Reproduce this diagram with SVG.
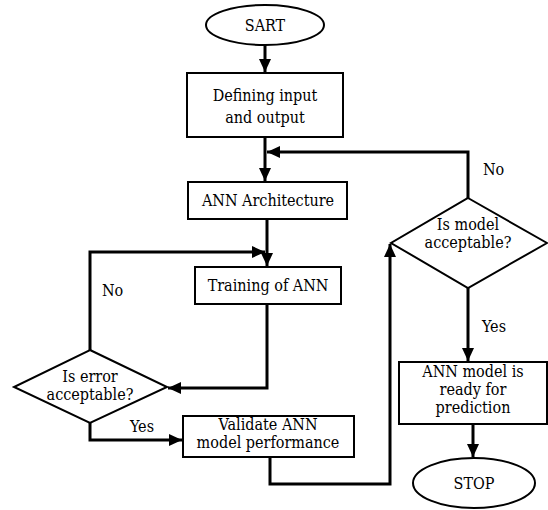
<svg xmlns="http://www.w3.org/2000/svg" width="548" height="510" viewBox="0 0 548 510">
<style>
.s{fill:#fff;stroke:#000;stroke-width:2}
.c{fill:none;stroke:#000;stroke-width:3}
text{font-family:'DejaVu Serif Condensed','DejaVu Serif',serif;font-size:16px;fill:#000;text-anchor:middle}
.l{text-anchor:start}
</style>
<defs>
<marker id="a" markerUnits="userSpaceOnUse" markerWidth="13" markerHeight="12" refX="13" refY="6" orient="auto">
<path d="M0,0 L13,6 L0,12 z" fill="#000"/>
</marker>
</defs>
<rect width="548" height="510" fill="#fff"/>
<g id="connectors">
<path class="c" d="M265 45 V72" marker-end="url(#a)"/>
<path class="c" d="M265 137 V181" marker-end="url(#a)"/>
<path class="c" d="M468 198 V152 H267" marker-end="url(#a)"/>
<path class="c" d="M267 219 V266" marker-end="url(#a)"/>
<path class="c" d="M90 350 V252 H265" marker-end="url(#a)"/>
<path class="c" d="M267 304 V388 H168" marker-end="url(#a)"/>
<path class="c" d="M90 423 V440 H182" marker-end="url(#a)"/>
<path class="c" d="M270 457 V484 H390 V244" marker-end="url(#a)"/>
<path class="c" d="M468 288 V361" marker-end="url(#a)"/>
<path class="c" d="M473 424 V457" marker-end="url(#a)"/>
<text class="l" x="102" y="296">No</text>
<text class="l" x="130" y="432">Yes</text>
<text class="l" x="483" y="175">No</text>
<text class="l" x="482" y="332">Yes</text>
</g>
<g id="start">
<ellipse class="s" cx="265" cy="25" rx="59" ry="20"/>
<text x="265" y="31">SART</text>
</g>
<g id="define">
<rect class="s" x="187" y="73" width="156" height="64"/>
<text x="265" y="101">Defining input</text>
<text x="265" y="123">and output</text>
</g>
<g id="arch">
<rect class="s" x="188" y="182" width="159" height="37"/>
<text x="268" y="206">ANN Architecture</text>
</g>
<g id="train">
<rect class="s" x="195" y="267" width="146" height="37"/>
<text x="268" y="291">Training of ANN</text>
</g>
<g id="error">
<polygon class="s" points="90,350 167,387 90,423 14,387"/>
<text x="90" y="382">Is error</text>
<text x="90" y="400">acceptable?</text>
</g>
<g id="validate">
<rect class="s" x="183" y="416" width="171" height="41"/>
<text x="268" y="430">Validate ANN</text>
<text x="268" y="448">model performance</text>
</g>
<g id="model">
<polygon class="s" points="468,198 547,243 468,288 391,243"/>
<text x="468" y="230">Is model</text>
<text x="468" y="248">acceptable?</text>
</g>
<g id="ready">
<rect class="s" x="399" y="362" width="148" height="62"/>
<text x="473" y="377">ANN model is</text>
<text x="473" y="395">ready for</text>
<text x="473" y="413">prediction</text>
</g>
<g id="stop">
<ellipse class="s" cx="474" cy="483" rx="61" ry="25"/>
<text x="474" y="489">STOP</text>
</g>
</svg>
